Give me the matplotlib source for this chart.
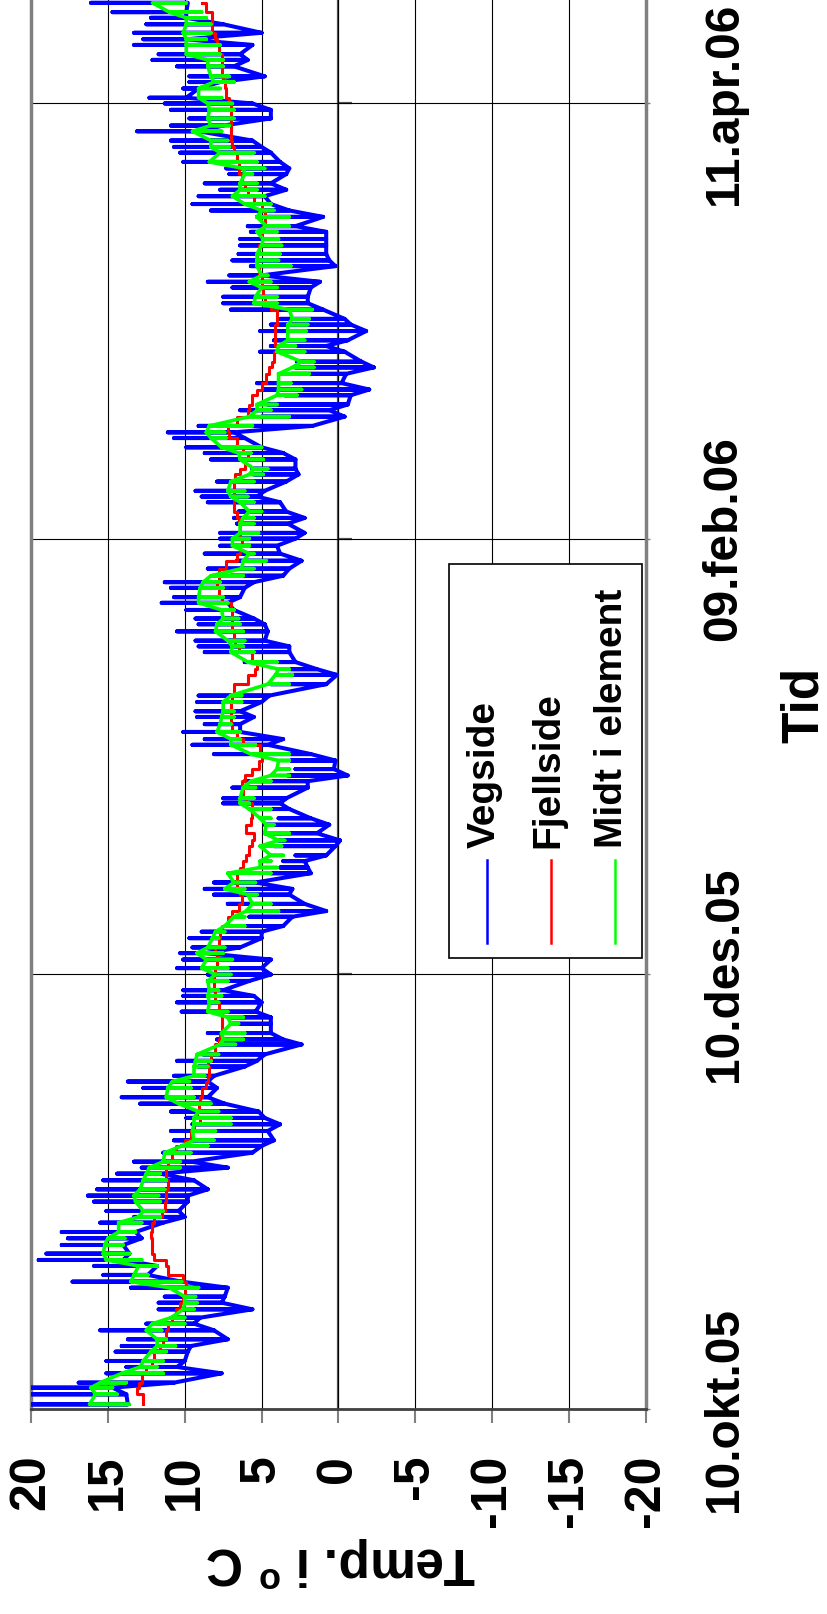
import numpy as np
import matplotlib
matplotlib.use('Agg')
import matplotlib.pyplot as plt
from matplotlib.patches import Rectangle

plt.rcParams['font.family'] = ['Liberation Sans', 'DejaVu Sans']
plt.rcParams['font.weight'] = 'bold'
plt.rcParams['mathtext.fontset'] = 'custom'
plt.rcParams['mathtext.rm'] = 'Liberation Sans:bold'
plt.rcParams['mathtext.bf'] = 'Liberation Sans:bold'
plt.rcParams['axes.unicode_minus'] = False

# tid i dager etter 10.okt.05
dager = [0.65, 2.06, 2.99, 3.69, 5.0, 5.89, 6.73, 8.04, 8.83, 9.77,
         11.03, 11.96, 12.8, 13.97, 14.9, 15.75, 17.0, 17.85, 18.79, 20.05,
         20.89, 21.78, 22.99, 23.93, 24.81, 26.12, 26.92, 27.76, 29.07, 29.91,
         30.79, 32.06, 32.99, 33.83, 34.67, 35.93, 36.87, 37.66, 38.97, 39.91,
         40.8, 41.7, 42.8, 43.7, 45.0, 45.9, 46.7, 48.0, 48.8, 49.7,
         51.1, 51.8, 52.7, 54.0, 54.9, 55.7, 57.0, 57.9, 58.7, 60.0,
         60.9, 61.8, 63.0, 63.9, 64.7, 66.0, 66.9, 67.7, 69.0, 69.8,
         70.8, 72.1, 72.9, 73.8, 75.1, 75.9, 76.8, 77.6, 78.9, 79.7,
         80.7, 81.9, 82.8, 84.1, 84.9, 85.6, 87.1, 88.0, 88.8, 89.7,
         90.9, 91.8, 93.1, 93.9, 94.9, 96.0, 97.0, 97.8, 99.1, 100.0,
         101.6, 102.9, 103.7, 104.7, 106.1, 106.9, 107.7, 109.0, 110.0, 110.8,
         112.0, 113.0, 113.8, 115.1, 115.9,
         116.8, 117.8, 118.9, 119.9, 121.0, 122.0, 122.8, 124.1, 124.9, 125.8,
         127.1, 127.9, 128.7, 130.0, 131.0, 131.8, 133.1, 134.0, 134.8, 136.1,
         136.9, 137.8, 139.1, 140.0, 140.8, 142.1, 142.9, 143.8, 145.1, 146.0,
         146.8, 148.2, 149.0, 149.8, 151.1, 152.0, 152.8, 154.1, 155.0, 155.9,
         157.2, 158.0,
         158.9, 160.2, 161.0, 161.9, 163.1, 164.0, 165.0, 165.8, 167.1, 168.0,
         168.9, 170.0, 170.9, 171.8, 173.1, 173.9, 174.8, 176.1, 176.9, 177.8,
         179.1, 179.9, 180.9, 182.1, 183.0, 183.8, 185.1, 186.0, 186.8, 188.2,
         189.1, 189.9, 191.2, 192.0, 192.9, 194.1, 195.0, 195.8, 197.1]

vegside_hoy = [21.0, 20.2, 20.0, 16.9, 15.1, 13.8, 15.1, 14.5, 14.1, 13.7,
               15.5, 12.5, 10.6, 11.7, 11.7, 11.3, 13.5, 17.3, 15.3, 15.9,
               19.5, 19.0, 18.0, 17.6, 18.0, 15.5, 13.3, 15.1, 15.9, 16.3,
               15.7, 15.3, 14.4, 12.8, 13.3, 11.4, 10.2, 10.7, 10.9, 9.5,
               9.9, 10.9, 12.9, 14.1, 12.7, 13.7, 10.7, 9.1, 10.5, 8.8,
               7.7, 7.9, 8.5, 6.9, 7.2, 10.2, 10.5, 10.1, 10.1, 8.5,
               8.5, 10.5, 10.1, 10.3, 9.5, 9.7, 8.9, 7.0, 5.8, 4.7,
               7.2, 8.1, 8.7, 8.1, 4.4, 3.8, 3.6, 2.8, 4.2, 3.9,
               4.8, 4.8, 3.9, 5.8, 7.5, 7.5, 6.9, 6.1, 3.3, 2.8,
               3.1, 8.1, 9.5, 8.7, 10.1, 8.7, 9.2, 9.3, 9.2, 9.1,
               4.4, 3.3, 3.1, 6.1, 8.7, 9.1, 9.3, 10.5, 9.1, 9.3,
               9.9, 11.5, 10.7, 10.9, 11.3,
               7.0, 8.5, 6.6, 8.7, 7.7, 7.7, 7.7, 6.6, 6.8, 6.5,
               8.5, 8.9, 9.3, 7.9, 5.5, 5.6, 8.3, 8.7, 9.9, 10.7,
               11.1, 9.1, 5.0, 6.4, 4.6, 3.5, 4.9, 5.3, 3.1, 2.8,
               2.7, 5.1, 4.4, 4.2, 5.1, 4.4, 3.8, 7.0, 7.5, 7.5,
               6.9, 8.5,
               7.1, 5.7, 6.9, 6.5, 6.4, 6.4, 5.7, 5.9, 5.3, 8.3,
               9.5, 9.1, 7.7, 8.7, 7.1, 7.3, 10.1, 10.3, 10.7, 10.9,
               13.1, 10.9, 9.7, 10.9, 11.3, 12.3, 10.1, 9.7, 9.7, 10.5,
               12.1, 11.7, 13.3, 12.7, 13.3, 12.5, 12.2, 14.7, 16.1]

vegside_lav = [13.7, 13.8, 14.7, 10.7, 7.6, 10.5, 10.0, 9.8, 9.6, 7.2,
               8.1, 9.4, 9.0, 5.6, 7.6, 7.4, 7.2, 10.2, 12.4, 11.8,
               14.0, 13.6, 14.0, 12.8, 13.2, 11.4, 10.0, 10.4, 9.8, 9.8,
               8.5, 9.4, 11.6, 7.2, 9.6, 5.6, 5.0, 4.2, 4.6, 3.8,
               4.8, 5.2, 7.4, 8.5, 7.9, 8.5, 8.1, 6.1, 5.3, 4.8,
               2.4, 3.6, 4.4, 4.4, 4.4, 5.4, 5.0, 5.5, 7.5, 5.8,
               4.4, 5.0, 4.4, 8.7, 6.4, 5.0, 5.0, 3.6, 3.0, 0.8,
               2.2, 3.2, 3.0, 5.4, 1.8, 2.0, 2.2, 0.8, 0.2, -0.1,
               1.4, 0.6, 1.8, 3.2, 3.8, 3.4, 2.0, 2.0, -0.6, 0.3,
               0.2, 1.8, 4.6, 3.6, 6.4, 6.4, 5.5, 6.4, 5.0, 4.5,
               0.8, 0.1, 1.4, 2.8, 3.2, 3.2, 4.8, 4.6, 4.8, 5.5,
               6.8, 7.2, 6.4, 6.1, 5.5,
               3.6, 3.2, 2.4, 3.8, 4.0, 2.8, 2.2, 3.3, 2.2, 3.4,
               3.8, 5.3, 4.8, 3.4, 2.6, 2.8, 2.8, 3.6, 5.0, 6.1,
               6.8, 1.7, -0.4, 0.6, -0.6, -0.8, -2.0, -0.2, -0.5, -2.3,
               -1.5, -0.4, 0.8, -0.6, -1.8, -0.8, -0.4, 1.0, 2.0, 2.0,
               1.8, 1.2,
               5.0, 0.2, 0.6, 0.8, 0.8, 0.8, 0.8, 2.8, 1.0, 3.2,
               4.4, 4.8, 3.4, 4.4, 3.4, 3.2, 3.8, 4.4, 5.0, 5.6,
               9.1, 7.5, 4.4, 4.4, 5.6, 9.9, 9.1, 7.7, 4.8, 6.8,
               5.9, 6.4, 5.6, 9.9, 5.0, 7.5, 9.9, 9.9, 9.8]

midt_hoy = [16.2, 15.8, 16.1, 15.5, 14.1, 12.9, 12.7, 12.2, 11.8, 11.8,
            12.5, 12.1, 10.9, 10.1, 10.0, 10.0, 11.0, 13.5, 13.3, 13.0,
            15.1, 15.3, 15.2, 15.0, 14.3, 14.3, 13.0, 12.7, 13.2, 13.3,
            12.9, 12.7, 12.5, 12.3, 11.4, 11.3, 10.2, 9.4, 9.5, 9.4,
            9.4, 9.1, 10.4, 11.2, 11.1, 10.8, 9.4, 9.4, 9.3, 9.2,
            7.7, 7.5, 7.6, 7.0, 7.2, 8.5, 8.4, 8.5, 8.4, 8.5,
            8.0, 8.9, 8.6, 9.2, 8.5, 8.2, 8.0, 7.4, 6.8, 6.0,
            5.6, 5.9, 7.4, 6.8, 7.2, 5.1, 5.1, 4.4, 5.1, 3.9,
            4.8, 4.7, 5.1, 5.8, 6.4, 6.4, 6.2, 5.7, 4.4, 4.0,
            3.9, 5.7, 7.0, 7.0, 7.9, 7.7, 7.6, 7.5, 7.5, 7.0,
            4.6, 4.1, 3.9, 5.9, 7.0, 6.9, 7.2, 8.0, 7.9, 7.5,
            7.6, 9.1, 9.1, 9.0, 8.8,
            8.3, 6.3, 6.2, 5.8, 6.9, 6.9, 6.4, 6.4, 6.2, 5.8,
            6.4, 7.0, 7.2, 7.0, 5.8, 5.5, 6.4, 6.5, 7.6, 8.3,
            8.6, 8.4, 5.8, 5.3, 5.3, 4.0, 3.9, 3.9, 3.9, 3.0,
            2.4, 4.0, 3.9, 3.3, 3.3, 3.3, 3.0, 3.2, 5.5, 5.4,
            5.0, 5.8,
            5.0, 5.3, 5.3, 5.3, 5.0, 4.9, 5.3, 4.7, 5.3, 5.0,
            6.1, 6.9, 6.4, 6.4, 6.1, 6.2, 8.4, 7.7, 8.3, 8.3,
            9.5, 8.3, 8.5, 8.4, 8.5, 9.1, 9.1, 8.1, 8.3, 8.5,
            8.5, 9.9, 9.9, 9.9, 10.1, 9.9, 9.9, 11.0, 12.1]

midt_lav = [13.6, 14.4, 14.7, 13.8, 11.4, 11.8, 11.4, 11.2, 10.6, 11.2,
            11.5, 10.0, 10.0, 9.4, 9.2, 9.3, 9.1, 10.2, 12.4, 11.8,
            12.8, 13.6, 14.0, 13.9, 13.2, 12.8, 11.6, 11.4, 11.6, 11.7,
            11.3, 11.2, 11.6, 10.3, 10.3, 9.6, 8.5, 8.1, 8.0, 7.0,
            7.0, 7.8, 8.3, 9.4, 9.6, 9.7, 8.7, 8.5, 8.3, 7.8,
            6.7, 6.2, 6.1, 6.5, 6.2, 7.2, 7.8, 7.6, 7.8, 7.2,
            7.0, 7.2, 6.9, 7.5, 7.4, 7.8, 7.4, 6.1, 6.1, 3.9,
            4.4, 5.3, 6.1, 5.4, 4.4, 4.0, 4.4, 3.6, 3.7, 3.5,
            3.2, 4.2, 4.4, 4.4, 5.8, 5.5, 5.4, 4.4, 3.2, 3.2,
            3.2, 3.2, 5.4, 6.4, 6.4, 7.0, 6.8, 6.8, 6.3, 6.3,
            3.2, 3.0, 3.2, 4.0, 5.5, 6.2, 6.1, 6.2, 6.4, 6.5,
            6.8, 7.2, 7.5, 7.5, 7.7,
            6.2, 5.5, 4.7, 5.5, 5.8, 5.8, 5.2, 5.5, 5.5, 5.0,
            5.5, 5.9, 6.1, 5.5, 4.9, 4.6, 4.9, 5.7, 5.0, 7.3,
            7.4, 5.6, 3.2, 4.4, 4.0, 2.7, 2.4, 3.1, 1.9, 1.6,
            1.6, 2.2, 2.8, 2.2, 2.1, 2.0, 1.9, 1.7, 4.0, 4.0,
            4.0, 4.4,
            4.6, 3.1, 3.9, 3.8, 3.7, 3.9, 4.0, 3.2, 3.2, 4.2,
            4.4, 4.8, 5.3, 5.3, 5.6, 4.8, 5.3, 5.5, 7.1, 7.2,
            7.6, 7.1, 6.8, 6.8, 6.9, 7.6, 7.7, 6.8, 7.1, 7.5,
            7.5, 7.7, 7.7, 8.6, 8.3, 8.3, 8.6, 8.9, 9.9]

fjellside = [12.7, 13.1, 13.0, 12.8, 12.5, 12.1, 12.0, 11.6, 11.4, 11.2,
             11.1, 10.8, 10.6, 10.3, 10.1, 10.0, 9.9, 10.1, 11.1, 11.2,
             12.0, 12.1, 12.1, 12.2, 12.1, 12.0, 11.5, 11.3, 11.2, 11.2,
             11.1, 11.2, 11.2, 11.1, 10.8, 10.6, 10.0, 9.6, 9.4, 9.0,
             9.2, 9.1, 9.0, 8.9, 8.6, 8.5, 8.4, 8.5, 8.3, 8.0,
             7.8, 7.7, 7.6, 7.6, 7.6, 7.8, 8.0, 8.0, 8.1, 8.1,
             8.0, 7.9, 7.9, 8.0, 7.8, 7.7, 7.6, 7.2, 6.9, 6.5,
             6.3, 6.4, 6.6, 6.6, 6.4, 6.2, 6.0, 5.8, 5.6, 5.5,
             6.0, 5.7, 5.6, 5.6, 6.0, 6.2, 6.3, 6.1, 5.6, 5.2,
             5.0, 5.1, 6.2, 6.6, 6.9, 7.0, 7.0, 7.0, 6.9, 6.8,
             5.9, 5.4, 5.3, 5.6, 6.5, 6.7, 6.8, 6.9, 6.9, 6.9,
             7.0, 7.6, 7.8, 7.9, 7.8,
             7.8, 7.3, 6.6, 6.4, 6.3, 6.4, 6.4, 6.5, 6.6, 6.8,
             6.8, 6.8, 6.8, 6.7, 6.4, 6.1, 5.9, 6.2, 6.6, 7.1,
             7.2, 6.6, 5.9, 5.8, 5.6, 5.3, 5.0, 4.7, 4.5, 4.3,
             4.2, 4.0, 4.1, 4.1, 4.1, 4.0, 4.0, 4.4, 4.8, 4.9,
             5.0, 5.0,
             5.2, 5.3, 5.3, 5.2, 5.0, 5.0, 4.9, 4.8, 4.8, 5.0,
             5.5, 5.9, 6.1, 6.3, 6.5, 6.5, 6.6, 6.8, 6.9, 7.0,
             7.0, 7.0, 7.0, 7.0, 7.1, 7.3, 7.4, 7.5, 7.6, 7.6,
             7.6, 7.8, 7.9, 8.0, 8.2, 8.2, 8.2, 8.6, 8.9]

serier = ['Vegside', 'Fjellside', 'Midt i element']
farger = ['#0000ff', '#ff0000', '#00ff00']
temp_ticks = [20, 15, 10, 5, 0, -5, -10, -15, -20]
dato_ticks = [0, 61, 122, 183]
dato_labels = ['10.okt.05', '10.des.05', '09.feb.06', '11.apr.06']


def pigger(t, basis, topp):
    # hver maaling: utslag fra basisverdi og tilbake
    xs, ys = [], []
    for ti, a, b in zip(t, basis, topp):
        xs += [a, b, a]
        ys += [ti, ti, ti]
    return xs, ys


W, H = 828, 1614
fig = plt.figure(figsize=(W/100, H/100), dpi=100)
ax = fig.add_axes([31/W, 1 - 1409/H, 615/W, 1409/H])

x, y = pigger(dager, vegside_lav, vegside_hoy)
ax.plot(x, y, color=farger[0], lw=2.9, solid_capstyle='butt', zorder=3)
ax.plot(fjellside, dager, color=farger[1], lw=2.2, drawstyle='steps-pre', zorder=4)
x, y = pigger(dager, midt_hoy, midt_lav)
ax.plot(x, y, color=farger[2], lw=2.6, solid_capstyle='butt', zorder=5)

ax.set_xlim(20, -20)
ax.set_ylim(0, 197.5)
ax.set_xticks(temp_ticks)
ax.set_xticklabels([str(v) for v in temp_ticks])
ax.tick_params(axis='x', direction='out', length=10, width=1.5, color='#808080',
               labelsize=36, pad=23, labelrotation=90)

ax.yaxis.tick_right()
ax.set_yticks(dato_ticks)
ax.set_yticklabels(dato_labels)
ax.tick_params(axis='y', direction='out', length=3, width=1, color='#808080',
               labelsize=34.5, pad=37, labelrotation=90)
for lbl in ax.get_yticklabels():
    lbl.set_va('center')

ax.grid(True, color='black', lw=0.8, zorder=1)
ax.axvline(0, color='#555555', lw=1.6, zorder=1)
ax.hlines(dato_ticks[1:], 0, -0.9, color='#555555', lw=1.6, zorder=1)
ax.spines['top'].set_visible(False)
for s in ['left', 'right']:
    ax.spines[s].set_color('#808080')
    ax.spines[s].set_linewidth(2.5)
ax.spines['bottom'].set_color('#404040')
ax.spines['bottom'].set_linewidth(2)

# forklaring, staaende
ax.add_patch(Rectangle((0.680, 0.320), 0.3135, 0.280, transform=ax.transAxes,
                       facecolor='white', edgecolor='black', lw=1.2, zorder=6))
for i, (navn, f) in enumerate(zip(serier, farger)):
    lx = 0.7415 + i*0.104
    ax.plot([lx, lx], [0.3307, 0.3896], color=f, lw=1.8, transform=ax.transAxes, zorder=7)
    ax.text(lx - 0.004, 0.398, navn, rotation=90, ha='center', va='bottom',
            fontsize=28, transform=ax.transAxes, zorder=7)

fig.text(341/W, 1 - 1561/H, r'Temp. i $^{\mathbf{o}}$ C', rotation=180,
         ha='center', va='center', fontsize=37)
fig.text(804/W, 1 - 705/H, 'Tid', rotation=90, ha='center', va='center', fontsize=37)

fig.savefig('out.png', dpi=100)
